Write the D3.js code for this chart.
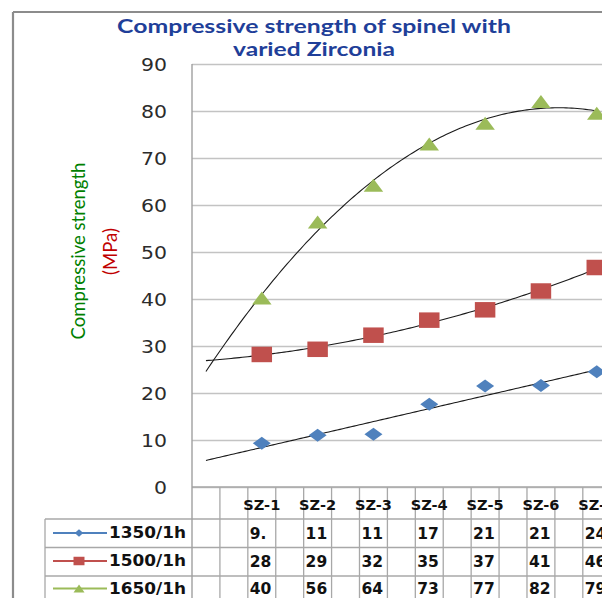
<!DOCTYPE html>
<html>
<head>
<meta charset="utf-8">
<script src="https://cdn.jsdelivr.net/npm/d3@7"></script>
<style>
  html, body { margin: 0; padding: 0; background: #fff; overflow: hidden; }
  svg { display: block; }
</style>
</head>
<body>
<svg id="chart" width="602" height="598"></svg>
<script>
// Compressive strength (MPa) of spinel samples SZ-1 … SZ-7 fired at three schedules
const categories = ["SZ-1", "SZ-2", "SZ-3", "SZ-4", "SZ-5", "SZ-6", "SZ-7"];
const seriesNames = ["1350/1h", "1500/1h", "1650/1h"];
const values1350 = [9.3, 11.0, 11.2, 17.6, 21.5, 21.6, 24.5];
const values1500 = [28.2, 29.3, 32.3, 35.5, 37.7, 41.7, 46.7];
const values1650 = [40.2, 56.4, 64.2, 73.0, 77.4, 82.0, 79.5];
const yTicks = [0, 10, 20, 30, 40, 50, 60, 70, 80, 90];
// trendline polynomial order per series (1 = linear)
const trendOrders = [1, 2, 2];

const seriesColors = ["#4f81bd", "#c0504d", "#9bbb59"];
const markerTypes = ["diamond", "square", "triangle"];
const seriesValues = [values1350, values1500, values1650];

const svg = d3.select("#chart");
svg.append("rect").attr("width", 602).attr("height", 598).attr("fill", "#fff");

const plotLeft = 192, plotTop = 64, plotBottom = 487;
const step = 55.83;
// category k sits at position k (1-based); position 0 is one period before SZ-1
const x = d3.scaleLinear().domain([-0.25, 7.5]).range([plotLeft, plotLeft + 7.75 * step]);
const y = d3.scaleLinear().domain([0, 90]).range([plotBottom, plotTop]);
const xMax = 660;

// outer chart frame
svg.append("line").attr("x1", 13).attr("x2", 13).attr("y1", 12).attr("y2", 598)
  .attr("stroke", "#8c8c8c").attr("stroke-width", 2.2);
svg.append("line").attr("x1", 13).attr("x2", 602).attr("y1", 12).attr("y2", 12)
  .attr("stroke", "#8c8c8c").attr("stroke-width", 2);

// title
const title = svg.append("g").attr("font-family", "Lato, 'Open Sans', sans-serif")
  .attr("font-weight", "bold").attr("fill", "#1f3f99").attr("font-size", 18)
  .attr("text-anchor", "middle");
title.append("text").attr("x", 314).attr("y", 33)
  .attr("textLength", 394).attr("lengthAdjust", "spacingAndGlyphs")
  .text("Compressive strength of spinel with");
title.append("text").attr("x", 314).attr("y", 56)
  .attr("textLength", 162).attr("lengthAdjust", "spacingAndGlyphs")
  .text("varied Zirconia");

// horizontal gridlines and value axis
const yAxis = d3.axisLeft(y).tickValues(yTicks).tickSize(0).tickPadding(0);
const yAxisG = svg.append("g").attr("transform", `translate(${plotLeft},0)`).call(yAxis);
yAxisG.select(".domain").remove();
yAxisG.selectAll(".tick text")
  .attr("x", 167 - plotLeft)
  .attr("dy", "0.36em")
  .attr("font-family", "'DejaVu Sans', Verdana, sans-serif")
  .attr("font-size", 17)
  .attr("fill", "#2b2b2b")
  .attr("textLength", d => String(d).length * 13)
  .attr("lengthAdjust", "spacingAndGlyphs");
yAxisG.selectAll(".tick").append("line")
  .attr("x1", 0).attr("x2", xMax - plotLeft)
  .attr("stroke", "#c3c3c3").attr("stroke-width", 1.6);

// value axis title
const yTitle = svg.append("g").attr("font-family", "Lato, 'Open Sans', sans-serif")
  .attr("text-anchor", "middle");
yTitle.append("text")
  .attr("transform", "translate(85,251) rotate(-90)")
  .attr("font-size", 20).attr("fill", "#008000")
  .attr("textLength", 177).attr("lengthAdjust", "spacingAndGlyphs")
  .text("Compressive strength");
yTitle.append("text")
  .attr("transform", "translate(117,251.5) rotate(-90)")
  .attr("font-size", 19).attr("fill", "#c00000")
  .attr("textLength", 47).attr("lengthAdjust", "spacingAndGlyphs")
  .text("(MPa)");

// data table grid
const grid = svg.append("g").attr("stroke", "#a8a8a8").attr("stroke-width", 1.3);
const rowLines = [519, 547.5, 576, 605];
grid.append("line").attr("x1", plotLeft).attr("x2", xMax).attr("y1", plotBottom).attr("y2", plotBottom);
rowLines.forEach(ry => {
  grid.append("line").attr("x1", 45).attr("x2", xMax).attr("y1", ry).attr("y2", ry);
});
grid.append("line").attr("x1", 45).attr("x2", 45).attr("y1", 519).attr("y2", 605);
d3.range(1, 17).forEach(i => {
  const cx = x(-0.25 + 0.5 * i);
  grid.append("line").attr("x1", cx).attr("x2", cx).attr("y1", plotBottom).attr("y2", 605);
});
// value axis line
svg.append("line").attr("x1", plotLeft).attr("x2", plotLeft).attr("y1", plotTop).attr("y2", 605)
  .attr("stroke", "#a0a0a0").attr("stroke-width", 1.4);

// category headers
svg.append("g").selectAll("text").data(categories).join("text")
  .attr("x", (d, i) => x(i + 1)).attr("y", 505).attr("dy", "0.36em")
  .attr("text-anchor", "middle")
  .attr("font-family", "'DejaVu Sans', Verdana, sans-serif")
  .attr("font-weight", "bold").attr("font-size", 14.5).attr("fill", "#111")
  .attr("textLength", 37).attr("lengthAdjust", "spacingAndGlyphs")
  .text(d => d);

// table values (narrow cells only fit the first two characters)
const rowCenters = [533, 561, 588.5];
seriesValues.forEach((vals, s) => {
  svg.append("g").selectAll("text").data(vals).join("text")
    .attr("x", (d, i) => x(i + 1) - 12).attr("y", rowCenters[s]).attr("dy", "0.36em")
    .attr("font-family", "'DejaVu Sans', Verdana, sans-serif")
    .attr("font-weight", "bold").attr("font-size", 15.5).attr("fill", "#111")
    .text(d => String(d).slice(0, 2));
});

// marker shapes (wide, as in the chart's aspect)
function markerPath(type, w, h) {
  const a = w / 2, b = h / 2;
  if (type === "diamond") return `M0,${-b}L${a},0L0,${b}L${-a},0Z`;
  if (type === "square") return `M${-a},${-b}H${a}V${b}H${-a}Z`;
  return `M0,${-b}L${a},${b}L${-a},${b}Z`;
}
const plotSizes = { diamond: [18, 13], square: [20.5, 15.5], triangle: [19.5, 13] };
const legendSizes = { diamond: [8.5, 7.5], square: [11, 8.5], triangle: [11, 8] };

// legend keys in the table
seriesNames.forEach((name, s) => {
  const g = svg.append("g");
  const cy = rowCenters[s];
  g.append("line").attr("x1", 53).attr("x2", 107).attr("y1", cy).attr("y2", cy)
    .attr("stroke", seriesColors[s]).attr("stroke-width", 2);
  const sz = legendSizes[markerTypes[s]];
  g.append("path").attr("d", markerPath(markerTypes[s], sz[0], sz[1]))
    .attr("transform", `translate(79,${cy})`).attr("fill", seriesColors[s]);
  g.append("text").attr("x", 109).attr("y", cy).attr("dy", "0.36em")
    .attr("font-family", "'DejaVu Sans', Verdana, sans-serif")
    .attr("font-weight", "bold").attr("font-size", 15).attr("fill", "#111")
    .attr("textLength", 77).attr("lengthAdjust", "spacingAndGlyphs")
    .text(name);
});

// least-squares polynomial fit over positions 1..n
function polyFit(vals, order) {
  const n = order + 1;
  const A = d3.range(n).map(() => new Array(n + 1).fill(0));
  vals.forEach((v, i) => {
    const xv = i + 1;
    for (let r = 0; r < n; r++) {
      for (let c = 0; c < n; c++) A[r][c] += Math.pow(xv, r + c);
      A[r][n] += v * Math.pow(xv, r);
    }
  });
  for (let p = 0; p < n; p++) {
    let best = p;
    for (let r = p + 1; r < n; r++) if (Math.abs(A[r][p]) > Math.abs(A[best][p])) best = r;
    [A[p], A[best]] = [A[best], A[p]];
    for (let r = 0; r < n; r++) {
      if (r === p) continue;
      const f = A[r][p] / A[p][p];
      for (let c = p; c <= n; c++) A[r][c] -= f * A[p][c];
    }
  }
  const coef = A.map((row, i) => row[n] / row[i]);
  return t => coef.reduce((acc, c, k) => acc + c * Math.pow(t, k), 0);
}

// trendlines, forecast one period backward
const trendLine = d3.line().x(d => x(d[0])).y(d => y(d[1]));
seriesValues.forEach((vals, s) => {
  const f = polyFit(vals, trendOrders[s]);
  const pts = d3.range(0, 7.0001, 0.05).map(t => [t, f(t)]);
  svg.append("path").attr("d", trendLine(pts))
    .attr("fill", "none").attr("stroke", "#1a1a1a").attr("stroke-width", 1.1);
});

// data markers
seriesValues.forEach((vals, s) => {
  const sz = plotSizes[markerTypes[s]];
  svg.append("g").selectAll("path").data(vals).join("path")
    .attr("d", markerPath(markerTypes[s], sz[0], sz[1]))
    .attr("transform", (d, i) => `translate(${x(i + 1)},${y(d)})`)
    .attr("fill", seriesColors[s]);
});
</script>
</body>
</html>
